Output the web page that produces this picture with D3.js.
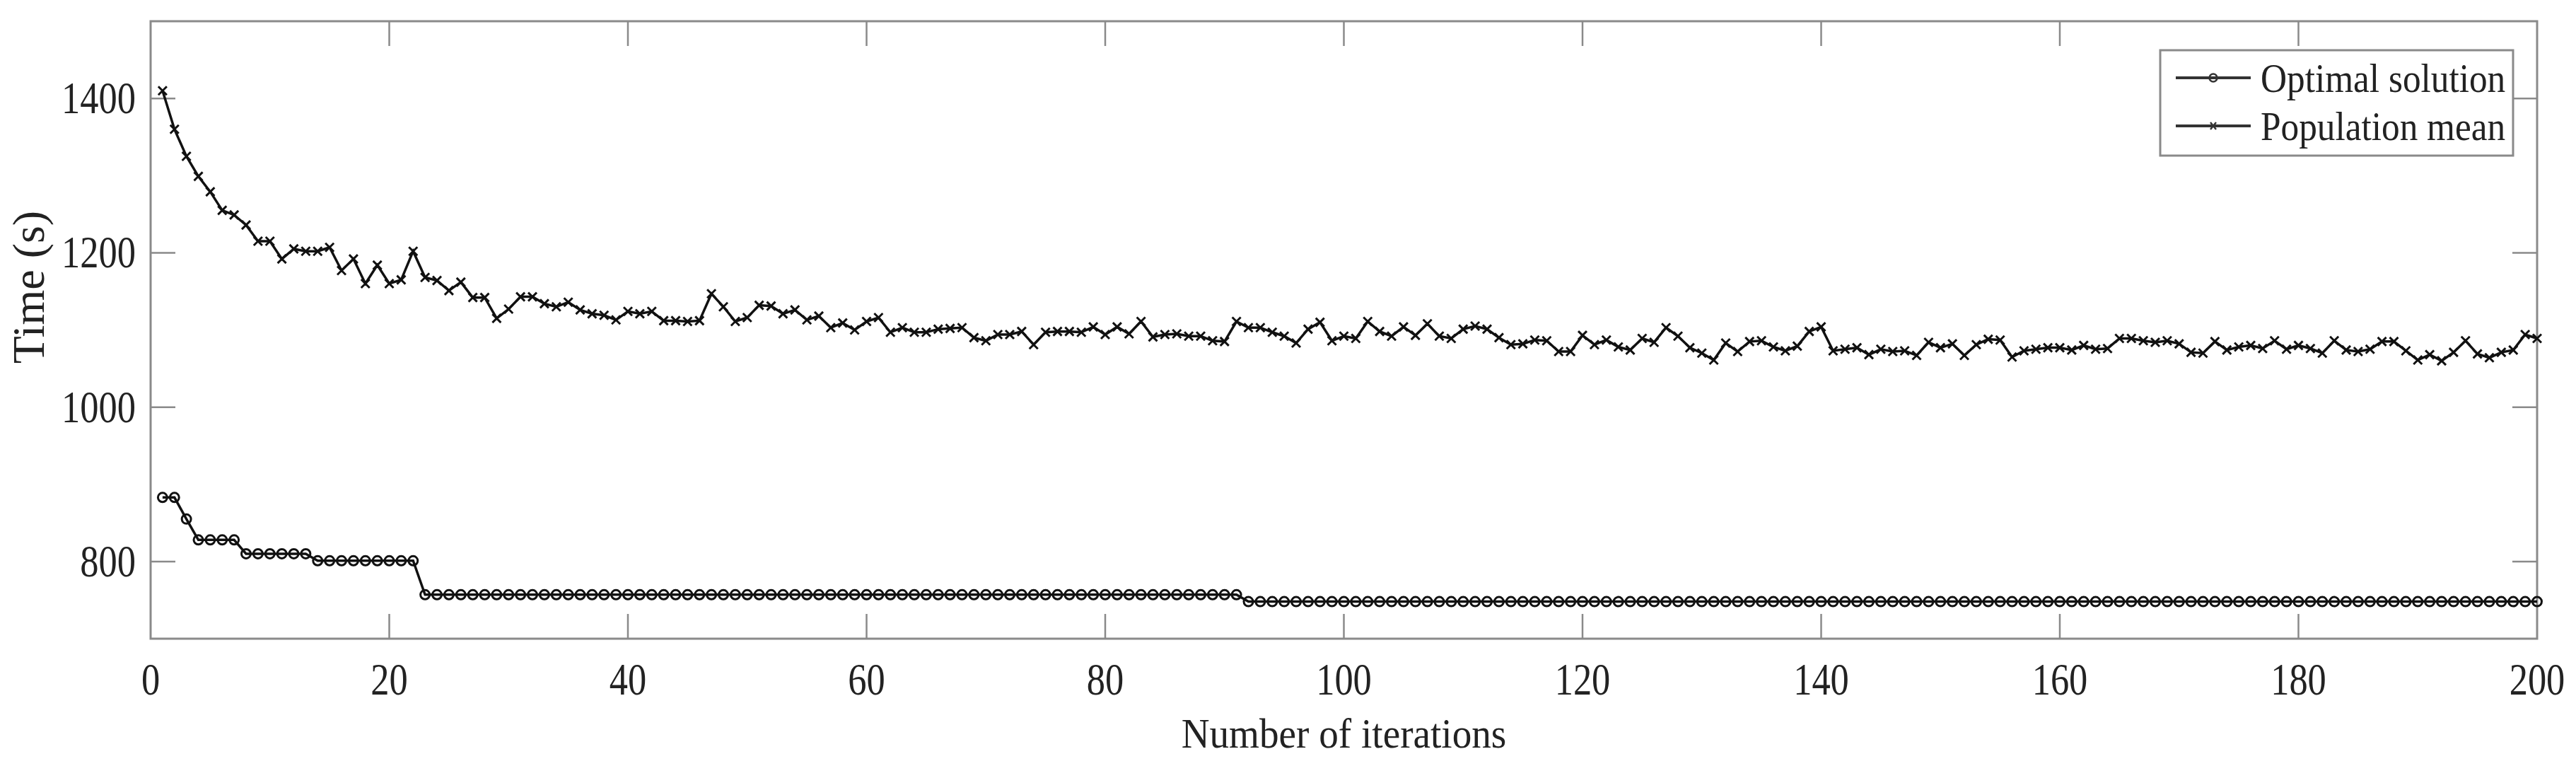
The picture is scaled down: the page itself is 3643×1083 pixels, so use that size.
<!DOCTYPE html>
<html><head><meta charset="utf-8">
<script src="https://cdn.jsdelivr.net/npm/d3@7"></script>
<style>body{margin:0;background:#fff}</style>
</head><body>
<script>
const optimal = [883,883,855,828,828,828,828,810,810,810,810,810,810,801,801,801,801,801,801,801,801,801,
  757,757,757,757,757,757,757,757,757,757,757,757,757,757,757,757,757,757,757,757,757,757,757,757,757,757,757,757,
  757,757,757,757,757,757,757,757,757,757,757,757,757,757,757,757,757,757,757,757,757,757,757,757,757,757,757,757,
  757,757,757,757,757,757,757,757,757,757,757,757,757,
  748,748,748,748,748,748,748,748,748,748,748,748,748,748,748,748,748,748,748,748,748,748,748,748,748,748,748,748,748,748,
  748,748,748,748,748,748,748,748,748,748,748,748,748,748,748,748,748,748,748,748,748,748,748,748,748,748,748,748,748,748,
  748,748,748,748,748,748,748,748,748,748,748,748,748,748,748,748,748,748,748,748,748,748,748,748,748,748,748,748,748,748,
  748,748,748,748,748,748,748,748,748,748,748,748,748,748,748,748,748,748,748];
const popMean = [1410,1360,1325,1299,1279,1255,1249,1236,1215,1215,1192,1205,1202,1202,1207,1177,1192,1160,1184,1160,
  1165,1202,1168,1164,1151,1162,1142,1142,1115,1127,1143,1143,1134,1130,1136,1126,1121,1119,1113,1124,
  1121,1124,1112,1112,1111,1112,1147,1130,1111,1116,1132,1131,1121,1126,1113,1118,1103,1109,1100,1111,
  1116,1097,1103,1097,1097,1101,1102,1103,1090,1086,1094,1094,1098,1081,1097,1098,1098,1097,1104,1094,
  1104,1095,1111,1091,1094,1095,1092,1092,1086,1085,1111,1103,1103,1097,1092,1083,1101,1110,1086,1092,
  1089,1111,1098,1092,1104,1093,1108,1092,1089,1101,1105,1101,1090,1081,1082,1087,1086,1072,1072,1093,
  1081,1087,1078,1074,1089,1084,1103,1092,1077,1070,1061,1083,1072,1085,1086,1078,1073,1079,1098,1104,
  1073,1075,1077,1068,1075,1072,1073,1067,1084,1077,1082,1067,1081,1088,1087,1065,1073,1075,1077,1077,
  1074,1080,1075,1076,1089,1089,1086,1084,1086,1082,1071,1070,1085,1074,1078,1080,1076,1086,1075,1080,
  1076,1070,1086,1074,1072,1075,1085,1085,1073,1061,1068,1060,1071,1086,1069,1064,1071,1074,1094,1089];
const xTicks = [0,20,40,60,80,100,120,140,160,180,200];
const yTicks = [800,1000,1200,1400];
const seriesNames = ["Optimal solution","Population mean"];
const xLabel = "Number of iterations", yLabel = "Time (s)";

const W=3643,H=1083, L=213,R=3588,T=30,B=903;
const svg=d3.select("body").append("svg").attr("width",W).attr("height",H);
const x=d3.scaleLinear().domain([0,200]).range([L,R]);
const y=d3.scaleLinear().domain([700,1500]).range([B,T]);
const font="'Liberation Serif','Times New Roman',serif";
const grey="#8a8a8a", tl=35;

svg.append("rect").attr("x",L).attr("y",T).attr("width",R-L).attr("height",B-T)
  .attr("fill","none").attr("stroke",grey).attr("stroke-width",3);
const tk=svg.append("g").attr("stroke",grey).attr("stroke-width",2.5);
xTicks.slice(1,-1).forEach(v=>{
  tk.append("line").attr("x1",x(v)).attr("x2",x(v)).attr("y1",B).attr("y2",B-tl);
  tk.append("line").attr("x1",x(v)).attr("x2",x(v)).attr("y1",T).attr("y2",T+tl);
});
yTicks.forEach(v=>{
  tk.append("line").attr("x1",L).attr("x2",L+tl).attr("y1",y(v)).attr("y2",y(v));
  tk.append("line").attr("x1",R).attr("x2",R-tl).attr("y1",y(v)).attr("y2",y(v));
});
function txt(s,px,py,size,anchor,sx){
  return svg.append("g").attr("transform",`translate(${px},${py}) scale(${sx},1)`)
    .append("text").text(s).attr("font-family",font).attr("font-size",size)
    .attr("text-anchor",anchor).attr("fill","#222");
}
xTicks.forEach(v=>txt(v,x(v),982,64,"middle",0.82));
yTicks.forEach(v=>txt(v,192,y(v)+21,64,"end",0.82));
txt(xLabel,(L+R)/2,1057,60,"middle",0.92);
svg.append("text").text(yLabel).attr("font-family",font).attr("font-size",64).attr("fill","#222")
  .attr("text-anchor","middle").attr("transform","translate(62,406) rotate(-90)");

const line=d3.line().x((d,i)=>x(i+1)).y(d=>y(d));
svg.append("path").datum(optimal).attr("d",line).attr("fill","none").attr("stroke","#111").attr("stroke-width",3.5);
svg.append("path").datum(popMean).attr("d",line).attr("fill","none").attr("stroke","#111").attr("stroke-width",3.5);
svg.append("g").selectAll("circle").data(optimal).join("circle")
  .attr("cx",(d,i)=>x(i+1)).attr("cy",d=>y(d)).attr("r",6.5)
  .attr("fill","none").attr("stroke","#111").attr("stroke-width",3);
const xm=6;
svg.append("g").selectAll("path").data(popMean).join("path")
  .attr("d",(d,i)=>{const cx=x(i+1),cy=y(d);return `M${cx-xm},${cy-xm}L${cx+xm},${cy+xm}M${cx-xm},${cy+xm}L${cx+xm},${cy-xm}`;})
  .attr("stroke","#111").attr("stroke-width",3);

svg.append("rect").attr("x",3055).attr("y",71).attr("width",499).attr("height",149)
  .attr("fill","#fff").attr("stroke",grey).attr("stroke-width",3);
seriesNames.forEach((n,k)=>{
  const ly=110+k*68;
  svg.append("line").attr("x1",3077).attr("x2",3183).attr("y1",ly).attr("y2",ly).attr("stroke","#333").attr("stroke-width",4);
  if(k===0) svg.append("circle").attr("cx",3130).attr("cy",ly).attr("r",5.5).attr("fill","none").attr("stroke","#333").attr("stroke-width",2.5);
  else svg.append("path").attr("d",`M3126,${ly-5}L3134,${ly+5}M3126,${ly+5}L3134,${ly-5}`).attr("stroke","#333").attr("stroke-width",2.5);
  txt(n,3197,ly+20,57,"start",0.9);
});
</script>
</body></html>
